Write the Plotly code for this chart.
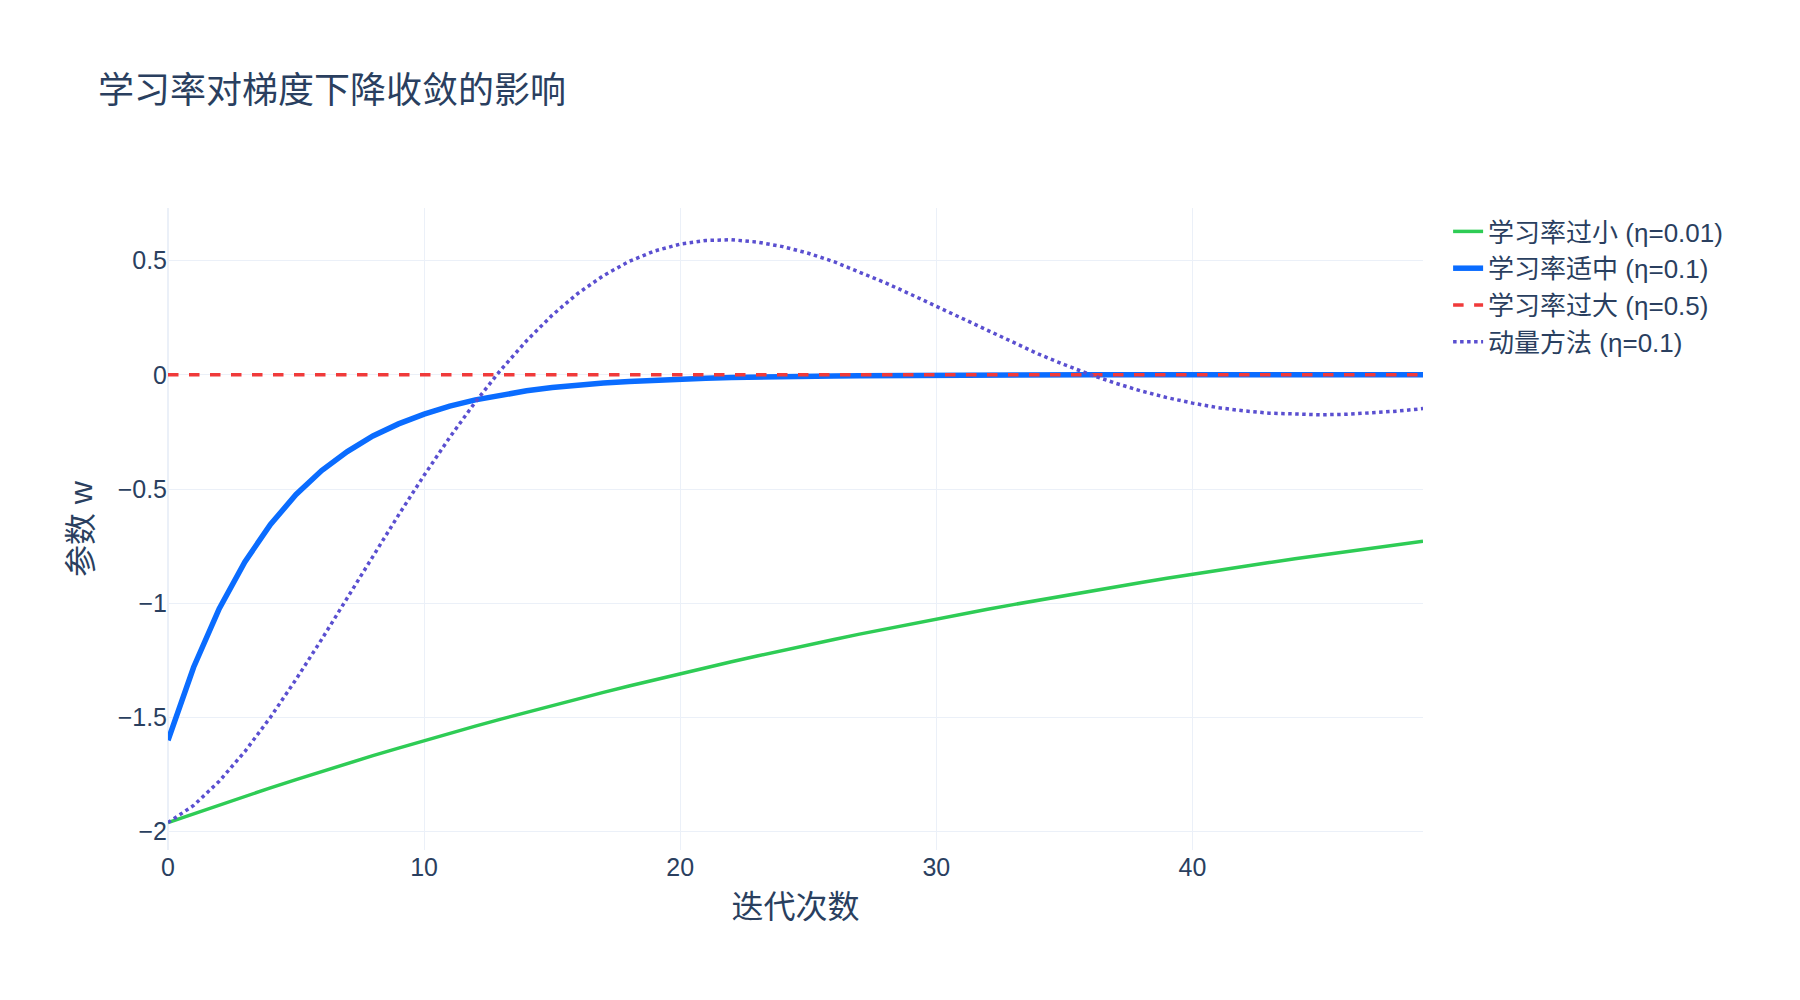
import plotly.graph_objects as go

iterations = list(range(50))

w_small = [-1.96, -1.921, -1.882, -1.845, -1.808, -1.772, -1.736, -1.701, -1.667, -1.634,
           -1.601, -1.569, -1.538, -1.507, -1.477, -1.447, -1.418, -1.390, -1.362, -1.335,
           -1.308, -1.282, -1.256, -1.231, -1.206, -1.182, -1.159, -1.135, -1.113, -1.090,
           -1.069, -1.047, -1.026, -1.006, -0.986, -0.966, -0.947, -0.928, -0.909, -0.891,
           -0.873, -0.856, -0.839, -0.822, -0.805, -0.789, -0.774, -0.758, -0.743, -0.728]

w_good = [-1.6, -1.28, -1.024, -0.819, -0.655, -0.524, -0.419, -0.336, -0.268, -0.215,
          -0.172, -0.137, -0.110, -0.088, -0.070, -0.056, -0.045, -0.036, -0.029, -0.023,
          -0.018, -0.015, -0.012, -0.009, -0.008, -0.006, -0.005, -0.004, -0.003, -0.002,
          -0.002, -0.001, -0.001, -0.001, -0.001, 0, 0, 0, 0, 0,
          0, 0, 0, 0, 0, 0, 0, 0, 0, 0]

w_large = [0] * 50

w_momentum = [-1.96, -1.885, -1.779, -1.649, -1.499, -1.333, -1.158, -0.977, -0.794, -0.614,
              -0.440, -0.274, -0.119, 0.022, 0.149, 0.261, 0.356, 0.434, 0.496, 0.542,
              0.572, 0.588, 0.591, 0.581, 0.561, 0.532, 0.495, 0.451, 0.403, 0.352,
              0.299, 0.245, 0.192, 0.140, 0.090, 0.044, 0.001, -0.037, -0.071, -0.100,
              -0.124, -0.144, -0.158, -0.168, -0.173, -0.175, -0.173, -0.167, -0.159, -0.148]

font_family = "Liberation Sans, Noto Sans CJK SC, sans-serif"

fig = go.Figure()
fig.add_trace(go.Scatter(x=iterations, y=w_small, mode="lines", name="学习率过小 (η=0.01)",
                         line=dict(color="#2ecc55", width=3.5)))
fig.add_trace(go.Scatter(x=iterations, y=w_good, mode="lines", name="学习率适中 (η=0.1)",
                         line=dict(color="#0a6cff", width=5.5)))
fig.add_trace(go.Scatter(x=iterations, y=w_large, mode="lines", name="学习率过大 (η=0.5)",
                         line=dict(color="#f03a3a", width=3.5, dash="dash")))
fig.add_trace(go.Scatter(x=iterations, y=w_momentum, mode="lines", name="动量方法 (η=0.1)",
                         line=dict(color="#5a4fd0", width=3.5, dash="dot")))

fig.update_layout(
    template="plotly_white",
    width=1800, height=1000,
    font=dict(family=font_family, size=24, color="#2a3f5f"),
    title=dict(text="学习率对梯度下降收敛的影响", x=0.05, y=0.93, font=dict(size=36)),
    xaxis=dict(title=dict(text="迭代次数", font=dict(size=32)), range=[0, 49], dtick=10,
               tickfont=dict(size=25)),
    yaxis=dict(title=dict(text="参数 w", font=dict(size=32)), range=[-2.08, 0.73],
               tickfont=dict(size=25), zeroline=False),
    legend=dict(x=1.02, y=1, font=dict(size=26)),
    margin=dict(l=160, r=385, t=200, b=158),
)

fig.write_html("out.html")
